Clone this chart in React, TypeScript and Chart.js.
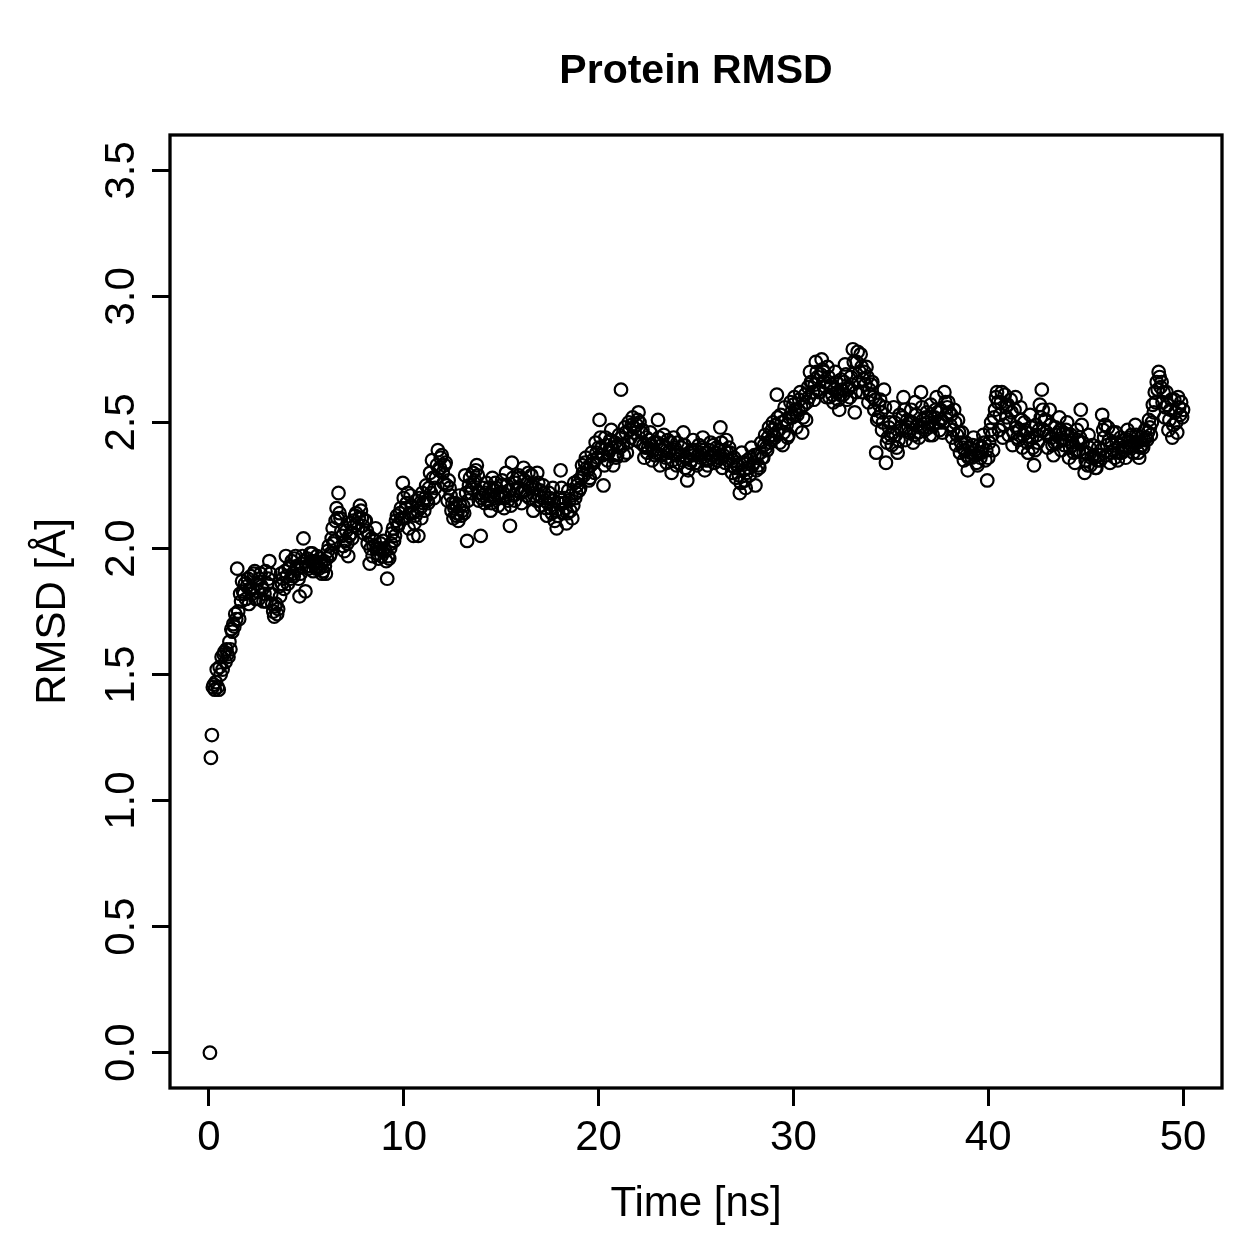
import { useEffect, useRef } from 'react';
import { Chart, registerables } from 'chart.js';

Chart.register(...registerables);

// Labels and ticks
const TITLE = 'Protein RMSD';
const X_LABEL = 'Time [ns]';
const Y_LABEL = 'RMSD [Å]';
const X_TICKS = [0, 10, 20, 30, 40, 50];
const Y_TICKS = [0, 0.5, 1.0, 1.5, 2.0, 2.5, 3.0, 3.5];
const Y_TICK_LABELS = ['0.0', '0.5', '1.0', '1.5', '2.0', '2.5', '3.0', '3.5'];

// Sampling of the trajectory frames
const TIME_START_NS = 0.05;
const TIME_STEP_NS = 0.05;

// RMSD per frame (Å), one row per nanosecond (20 frames each)
const RMSD = [
  0.00, 1.17, 1.26, 1.45, 1.46, 1.44, 1.47, 1.52, 1.45, 1.44, 1.53, 1.50, 1.57, 1.52, 1.58, 1.59, 1.55, 1.60, 1.58, 1.57,
  1.63, 1.60, 1.68, 1.67, 1.70, 1.69, 1.74, 1.72, 1.92, 1.75, 1.72, 1.82, 1.79, 1.87, 1.83, 1.82, 1.86, 1.80, 1.85, 1.88,
  1.78, 1.84, 1.89, 1.82, 1.84, 1.90, 1.91, 1.80, 1.86, 1.83, 1.80, 1.88, 1.90, 1.85, 1.84, 1.79, 1.82, 1.91, 1.79, 1.86,
  1.88, 1.95, 1.90, 1.82, 1.78, 1.75, 1.73, 1.77, 1.78, 1.74, 1.76, 1.85, 1.81, 1.90, 1.86, 1.88, 1.84, 1.91, 1.97, 1.89,
  1.86, 1.92, 1.93, 1.88, 1.95, 1.90, 1.89, 1.96, 1.97, 1.93, 1.92, 1.88, 1.81, 1.90, 1.94, 1.97, 2.04, 1.95, 1.83, 1.93,
  1.96, 1.92, 1.93, 1.98, 1.95, 1.98, 1.91, 1.94, 1.95, 1.92, 1.97, 1.93, 1.92, 1.96, 1.94, 1.90, 1.91, 1.95, 1.93, 1.90,
  1.96, 1.99, 2.01, 1.97, 1.98, 2.04, 2.08, 2.02, 2.03, 2.11, 2.16, 2.12, 2.22, 2.14, 2.12, 2.07, 2.05, 2.01, 1.99, 2.03,
  2.07, 2.02, 1.97, 2.05, 2.10, 2.06, 2.04, 2.11, 2.09, 2.13, 2.14, 2.10, 2.08, 2.12, 2.17, 2.15, 2.12, 2.09, 2.06, 2.11,
  2.11, 2.07, 2.02, 2.05, 1.94, 2.00, 2.04, 1.97, 2.01, 2.03, 2.08, 2.00, 1.98, 1.96, 2.00, 2.02, 1.97, 1.99, 2.03, 2.00,
  1.99, 1.95, 1.88, 1.97, 1.96, 2.00, 2.02, 2.06, 2.08, 2.03, 2.05, 2.11, 2.13, 2.09, 2.10, 2.14, 2.16, 2.12, 2.26, 2.20,
  2.12, 2.16, 2.18, 2.22, 2.08, 2.14, 2.21, 2.17, 2.14, 2.05, 2.10, 2.13, 2.19, 2.15, 2.05, 2.20, 2.16, 2.12, 2.22, 2.18,
  2.15, 2.20, 2.25, 2.19, 2.18, 2.24, 2.30, 2.22, 2.35, 2.28, 2.20, 2.24, 2.28, 2.33, 2.39, 2.31, 2.32, 2.36, 2.37, 2.30,
  2.26, 2.33, 2.34, 2.25, 2.19, 2.27, 2.24, 2.21, 2.15, 2.18, 2.12, 2.16, 2.18, 2.13, 2.14, 2.11, 2.21, 2.17, 2.13, 2.15,
  2.17, 2.14, 2.29, 2.22, 2.03, 2.19, 2.25, 2.28, 2.22, 2.24, 2.30, 2.26, 2.27, 2.31, 2.33, 2.29, 2.19, 2.22, 2.05, 2.20,
  2.24, 2.21, 2.18, 2.22, 2.26, 2.19, 2.21, 2.24, 2.15, 2.18, 2.28, 2.23, 2.20, 2.26, 2.24, 2.21, 2.17, 2.20, 2.22, 2.25,
  2.27, 2.22, 2.16, 2.20, 2.30, 2.25, 2.19, 2.23, 2.09, 2.17, 2.34, 2.28, 2.21, 2.19, 2.26, 2.23, 2.24, 2.29, 2.28, 2.22,
  2.18, 2.23, 2.32, 2.27, 2.23, 2.21, 2.26, 2.30, 2.20, 2.24, 2.29, 2.25, 2.15, 2.21, 2.24, 2.19, 2.30, 2.26, 2.21, 2.23,
  2.17, 2.20, 2.25, 2.22, 2.19, 2.16, 2.13, 2.18, 2.22, 2.20, 2.16, 2.14, 2.24, 2.19, 2.11, 2.15, 2.08, 2.13, 2.18, 2.20,
  2.31, 2.24, 2.14, 2.18, 2.20, 2.16, 2.10, 2.14, 2.23, 2.19, 2.15, 2.21, 2.12, 2.17, 2.26, 2.20, 2.22, 2.25, 2.27, 2.23,
  2.24, 2.28, 2.33, 2.30, 2.29, 2.34, 2.36, 2.32, 2.31, 2.27, 2.28, 2.33, 2.38, 2.35, 2.34, 2.30, 2.42, 2.38, 2.36, 2.40,
  2.51, 2.44, 2.40, 2.37, 2.25, 2.33, 2.44, 2.41, 2.35, 2.38, 2.39, 2.43, 2.47, 2.40, 2.33, 2.37, 2.42, 2.36, 2.37, 2.41,
  2.45, 2.40, 2.63, 2.44, 2.41, 2.37, 2.48, 2.46, 2.38, 2.42, 2.50, 2.47, 2.44, 2.49, 2.52, 2.48, 2.46, 2.43, 2.49, 2.51,
  2.54, 2.50, 2.42, 2.46, 2.47, 2.41, 2.36, 2.40, 2.44, 2.38, 2.40, 2.43, 2.46, 2.41, 2.35, 2.39, 2.42, 2.37, 2.38, 2.42,
  2.51, 2.44, 2.33, 2.37, 2.41, 2.39, 2.45, 2.40, 2.36, 2.34, 2.43, 2.38, 2.39, 2.42, 2.30, 2.35, 2.44, 2.40, 2.37, 2.33,
  2.42, 2.38, 2.34, 2.37, 2.40, 2.35, 2.46, 2.41, 2.32, 2.36, 2.27, 2.31, 2.38, 2.34, 2.35, 2.39, 2.43, 2.37, 2.39, 2.34,
  2.33, 2.37, 2.41, 2.38, 2.36, 2.40, 2.44, 2.39, 2.31, 2.35, 2.38, 2.33, 2.35, 2.39, 2.42, 2.36, 2.37, 2.41, 2.34, 2.38,
  2.40, 2.35, 2.36, 2.39, 2.48, 2.42, 2.32, 2.37, 2.39, 2.34, 2.43, 2.38, 2.35, 2.40, 2.38, 2.33, 2.30, 2.35, 2.36, 2.32,
  2.28, 2.33, 2.33, 2.29, 2.22, 2.26, 2.38, 2.34, 2.31, 2.27, 2.24, 2.30, 2.35, 2.32, 2.29, 2.36, 2.40, 2.33, 2.34, 2.37,
  2.25, 2.31, 2.37, 2.33, 2.32, 2.38, 2.42, 2.36, 2.36, 2.41, 2.45, 2.40, 2.39, 2.44, 2.48, 2.42, 2.43, 2.47, 2.50, 2.45,
  2.44, 2.49, 2.61, 2.52, 2.47, 2.42, 2.53, 2.50, 2.41, 2.46, 2.56, 2.51, 2.49, 2.44, 2.45, 2.52, 2.58, 2.54, 2.52, 2.57,
  2.60, 2.55, 2.48, 2.53, 2.55, 2.59, 2.62, 2.56, 2.46, 2.52, 2.57, 2.61, 2.51, 2.58, 2.64, 2.60, 2.70, 2.66, 2.66, 2.62,
  2.59, 2.65, 2.74, 2.70, 2.68, 2.63, 2.62, 2.69, 2.75, 2.71, 2.70, 2.66, 2.64, 2.60, 2.72, 2.68, 2.60, 2.64, 2.65, 2.61,
  2.58, 2.63, 2.70, 2.66, 2.62, 2.59, 2.55, 2.61, 2.67, 2.63, 2.61, 2.66, 2.73, 2.69, 2.59, 2.63, 2.64, 2.60, 2.68, 2.65,
  2.79, 2.74, 2.54, 2.62, 2.74, 2.78, 2.66, 2.70, 2.77, 2.72, 2.62, 2.67, 2.70, 2.65, 2.72, 2.68, 2.58, 2.63, 2.61, 2.65,
  2.66, 2.60, 2.55, 2.59, 2.38, 2.51, 2.52, 2.57, 2.59, 2.54, 2.47, 2.50, 2.63, 2.56, 2.34, 2.42, 2.44, 2.48, 2.50, 2.45,
  2.41, 2.46, 2.56, 2.50, 2.45, 2.40, 2.38, 2.43, 2.53, 2.48, 2.47, 2.52, 2.60, 2.55, 2.43, 2.47, 2.51, 2.48, 2.46, 2.50,
  2.55, 2.50, 2.42, 2.45, 2.58, 2.53, 2.49, 2.46, 2.44, 2.48, 2.62, 2.56, 2.51, 2.48, 2.47, 2.52, 2.54, 2.50, 2.48, 2.45,
  2.57, 2.52, 2.45, 2.49, 2.52, 2.55, 2.60, 2.54, 2.50, 2.47, 2.55, 2.51, 2.46, 2.50, 2.62, 2.58, 2.53, 2.56, 2.58, 2.54,
  2.49, 2.53, 2.44, 2.47, 2.55, 2.50, 2.41, 2.45, 2.51, 2.46, 2.38, 2.42, 2.46, 2.40, 2.35, 2.39, 2.42, 2.37, 2.31, 2.36,
  2.40, 2.38, 2.36, 2.41, 2.44, 2.39, 2.37, 2.34, 2.33, 2.38, 2.41, 2.36, 2.38, 2.40, 2.45, 2.42, 2.35, 2.39, 2.27, 2.36,
  2.42, 2.47, 2.50, 2.45, 2.39, 2.52, 2.55, 2.60, 2.62, 2.58, 2.47, 2.53, 2.58, 2.62, 2.44, 2.49, 2.61, 2.56, 2.52, 2.57,
  2.45, 2.50, 2.59, 2.54, 2.41, 2.46, 2.55, 2.60, 2.48, 2.44, 2.43, 2.47, 2.56, 2.51, 2.40, 2.45, 2.50, 2.47, 2.46, 2.42,
  2.38, 2.43, 2.53, 2.48, 2.44, 2.40, 2.33, 2.39, 2.49, 2.45, 2.42, 2.47, 2.57, 2.52, 2.63, 2.55, 2.47, 2.51, 2.51, 2.46,
  2.40, 2.45, 2.55, 2.49, 2.44, 2.41, 2.37, 2.42, 2.48, 2.45, 2.42, 2.46, 2.52, 2.47, 2.39, 2.43, 2.46, 2.41, 2.43, 2.47,
  2.50, 2.45, 2.36, 2.40, 2.45, 2.42, 2.41, 2.38, 2.34, 2.39, 2.47, 2.43, 2.39, 2.44, 2.55, 2.49, 2.42, 2.38, 2.30, 2.35,
  2.38, 2.33, 2.45, 2.40, 2.33, 2.36, 2.41, 2.37, 2.36, 2.32, 2.32, 2.35, 2.40, 2.37, 2.35, 2.39, 2.53, 2.47, 2.44, 2.49,
  2.37, 2.41, 2.48, 2.43, 2.34, 2.38, 2.42, 2.46, 2.39, 2.36, 2.46, 2.42, 2.35, 2.38, 2.41, 2.44, 2.38, 2.40, 2.43, 2.39,
  2.36, 2.40, 2.47, 2.43, 2.40, 2.44, 2.45, 2.41, 2.38, 2.42, 2.49, 2.45, 2.42, 2.38, 2.36, 2.40, 2.44, 2.41, 2.40, 2.43,
  2.47, 2.44, 2.43, 2.46, 2.51, 2.48, 2.45, 2.50, 2.57, 2.54, 2.62, 2.58, 2.66, 2.63, 2.70, 2.68, 2.64, 2.66, 2.58, 2.62,
  2.52, 2.56, 2.62, 2.57, 2.47, 2.51, 2.55, 2.59, 2.44, 2.49, 2.59, 2.54, 2.50, 2.46, 2.60, 2.56, 2.53, 2.58, 2.52, 2.55,
];

const FONT_FAMILY = '"Liberation Sans", Arial, Helvetica, sans-serif';
const INK = '#000000';

// Box, titles and tick labels in the style of a base-graphics plot
const framePlugin = {
  id: 'frameAndLabels',
  afterDraw(chart: any) {
    const { ctx, chartArea } = chart;
    const xs = chart.scales.x;
    const ys = chart.scales.y;
    ctx.save();
    ctx.strokeStyle = INK;
    ctx.fillStyle = INK;
    ctx.lineWidth = 3.3;
    ctx.strokeRect(
      chartArea.left,
      chartArea.top,
      chartArea.right - chartArea.left,
      chartArea.bottom - chartArea.top
    );

    const midX = (chartArea.left + chartArea.right) / 2;
    const midY = (chartArea.top + chartArea.bottom) / 2;

    // Main title
    ctx.font = `bold 41px ${FONT_FAMILY}`;
    ctx.textAlign = 'center';
    ctx.textBaseline = 'alphabetic';
    ctx.fillText(TITLE, midX, 83);

    // X tick labels and title
    ctx.font = `42px ${FONT_FAMILY}`;
    X_TICKS.forEach((v) => {
      ctx.fillText(String(v), xs.getPixelForValue(v), 1150);
    });
    ctx.fillText(X_LABEL, midX, 1216);

    // Y tick labels (parallel to the axis) and title
    Y_TICKS.forEach((v, i) => {
      ctx.save();
      ctx.translate(134, ys.getPixelForValue(v));
      ctx.rotate(-Math.PI / 2);
      ctx.fillText(Y_TICK_LABELS[i], 0, 0);
      ctx.restore();
    });
    ctx.save();
    ctx.translate(65, midY);
    ctx.rotate(-Math.PI / 2);
    ctx.fillText(Y_LABEL, 0, 0);
    ctx.restore();

    ctx.restore();
  },
};

export default function App() {
  const canvasRef = useRef<HTMLCanvasElement | null>(null);

  useEffect(() => {
    const canvas = canvasRef.current;
    if (!canvas) return;

    const points = RMSD.map((v, i) => ({
      x: Number((TIME_START_NS + i * TIME_STEP_NS).toFixed(3)),
      y: v,
    }));

    const tickGrid = {
      display: true,
      drawOnChartArea: false,
      drawTicks: true,
      tickLength: 18,
      tickWidth: 3,
      tickColor: INK,
      color: INK,
    };

    const chart = new Chart(canvas, {
      type: 'scatter',
      data: {
        datasets: [
          {
            data: points,
            showLine: false,
            pointRadius: 6.3,
            pointHoverRadius: 6.3,
            pointBorderWidth: 2.2,
            pointBorderColor: INK,
            pointBackgroundColor: 'rgba(0,0,0,0)',
          },
        ],
      },
      options: {
        responsive: false,
        animation: false,
        devicePixelRatio: 1,
        events: [],
        layout: { padding: { top: 135, right: 37, bottom: 0, left: 0 } },
        plugins: {
          legend: { display: false },
          tooltip: { enabled: false },
          title: { display: false },
        },
        scales: {
          x: {
            type: 'linear',
            position: 'bottom',
            min: -2,
            max: 52,
            afterBuildTicks: (s: any) => {
              s.ticks = X_TICKS.map((v) => ({ value: v }));
            },
            afterFit: (s: any) => {
              s.height = 171;
            },
            grid: tickGrid,
            border: { display: false },
            ticks: { display: false },
          },
          y: {
            type: 'linear',
            position: 'left',
            min: -0.14,
            max: 3.64,
            afterBuildTicks: (s: any) => {
              s.ticks = Y_TICKS.map((v) => ({ value: v }));
            },
            afterFit: (s: any) => {
              s.width = 170;
            },
            grid: tickGrid,
            border: { display: false },
            ticks: { display: false },
          },
        },
      },
      plugins: [framePlugin],
    });

    return () => chart.destroy();
  }, []);

  return (
    <div style={{ position: 'fixed', left: 0, top: 0, width: 1259, height: 1259, background: '#fff' }}>
      <canvas ref={canvasRef} width={1259} height={1259} />
    </div>
  );
}
